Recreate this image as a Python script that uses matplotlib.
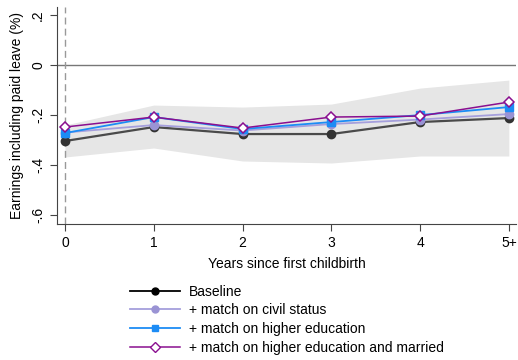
import matplotlib.pyplot as plt

plt.rcParams["font.family"] = ["Liberation Sans", "DejaVu Sans"]

years = [0, 1, 2, 3, 4, 5]
year_labels = ["0", "1", "2", "3", "4", "5+"]

baseline = [-0.304, -0.248, -0.276, -0.276, -0.228, -0.212]
civil = [-0.270, -0.240, -0.262, -0.236, -0.218, -0.196]
higher_edu = [-0.272, -0.208, -0.256, -0.228, -0.200, -0.168]
edu_married = [-0.248, -0.208, -0.252, -0.208, -0.204, -0.148]

ci_low = [-0.368, -0.332, -0.384, -0.392, -0.364, -0.364]
ci_high = [-0.240, -0.160, -0.168, -0.156, -0.092, -0.060]

yticks = [0.2, 0, -0.2, -0.4, -0.6]
ytick_labels = [".2", "0", "-.2", "-.4", "-.6"]

fig = plt.figure(figsize=(5.18, 3.6), dpi=100)
ax = fig.add_axes([0.11, 0.378, 0.886, 0.602])

ax.fill_between(years, ci_low, ci_high, color="#e6e6e6", lw=0, zorder=1)
ax.axhline(0, color="#777777", lw=1, zorder=2)
ax.axvline(0, color="#999999", lw=1, ls=(0, (5, 3)), zorder=2)

ax.plot(years, baseline, color="#4a4a4a", lw=1.6, marker="o", ms=6,
        markerfacecolor="#333333", markeredgecolor="#333333", zorder=3)
ax.plot(years, civil, color="#a59fdc", lw=1.3, marker="o", ms=6,
        markerfacecolor="#9a93d4", markeredgecolor="#9a93d4", zorder=4)
ax.plot(years, higher_edu, color="#1c8cf5", lw=1.3, marker="s", ms=5.5,
        markerfacecolor="#1c8cf5", markeredgecolor="#1c8cf5", zorder=5)
ax.plot(years, edu_married, color="#8a0f8f", lw=1.1, marker="D", ms=5.5,
        markerfacecolor="white", markeredgecolor="#8a0f8f", markeredgewidth=1.1, zorder=6)

# legend handles (black markers for baseline as in reference)
h1, = ax.plot([], [], color="black", lw=1.3, marker="o", ms=5)
h2, = ax.plot([], [], color="#a59fdc", lw=1.3, marker="o", ms=5,
              markerfacecolor="#9a93d4", markeredgecolor="#9a93d4")
h3, = ax.plot([], [], color="#1c8cf5", lw=1.3, marker="s", ms=5)
h4, = ax.plot([], [], color="#8a0f8f", lw=1.1, marker="D", ms=5,
              markerfacecolor="white", markeredgecolor="#8a0f8f")
fig.legend([h1, h2, h3, h4],
           ["Baseline", "+ match on civil status", "+ match on higher education",
            "+ match on higher education and married"],
           loc="upper left", bbox_to_anchor=(0.238, 0.229), frameon=False,
           fontsize=10, handlelength=3.6, labelspacing=0.34, borderpad=0, handletextpad=0.65)

ax.set_xlim(-0.09, 5.08)
ax.set_ylim(-0.636, 0.232)
ax.set_xticks(years)
ax.set_xticklabels(year_labels, fontsize=10)
ax.set_yticks(yticks)
ax.set_yticklabels(ytick_labels, fontsize=10, rotation=90, va="center")
ax.set_xlabel("Years since first childbirth", fontsize=10, labelpad=5)
ax.set_ylabel("Earnings including paid leave (%)", fontsize=10, labelpad=5)

for s in ["top", "right"]:
    ax.spines[s].set_visible(False)
ax.spines["left"].set_color("#444444")
ax.spines["bottom"].set_color("#444444")
ax.tick_params(colors="#444444", labelcolor="black", length=5, direction="out")

fig.savefig("out.png", dpi=100)
